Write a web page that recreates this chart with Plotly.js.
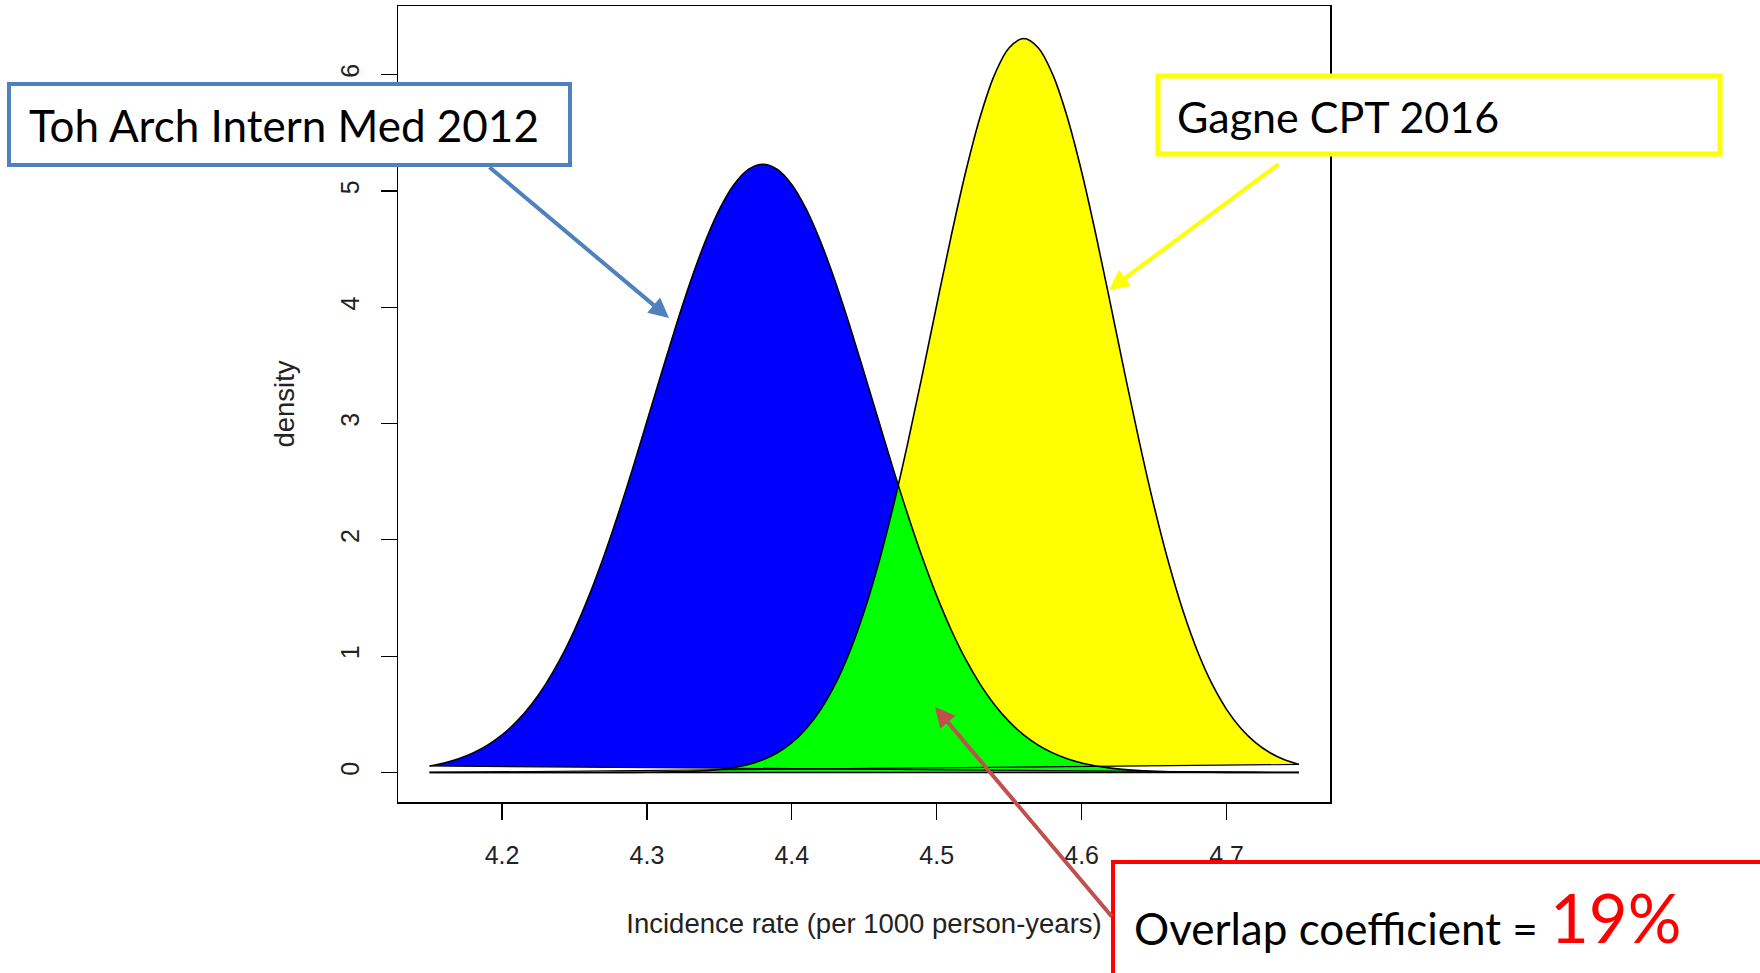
<!DOCTYPE html>
<html><head><meta charset="utf-8">
<script src="https://cdn.plot.ly/plotly-3.0.1.min.js"></script>
<style>html,body{margin:0;padding:0;background:#fff}#chart{width:1760px;height:973px}</style>
</head><body><div id="chart"></div>
<script>
// ---- data ----
const incidenceRate = [4.15,4.16,4.17,4.18,4.19,4.20,4.21,4.22,4.23,4.24,4.25,4.26,4.27,4.28,4.29,4.30,
  4.31,4.32,4.33,4.34,4.35,4.36,4.37,4.38,4.39,4.40,4.41,4.42,4.43,4.44,4.45,4.46,4.47,4.48,4.49,4.50,
  4.51,4.52,4.53,4.54,4.55,4.56,4.57,4.58,4.59,4.60,4.61,4.62,4.63,4.64,4.65,4.66,4.67,4.68,4.69,4.70,
  4.71,4.72,4.73,4.74,4.75];
const densityToh = [0.0556,0.0819,0.1185,0.1685,0.2355,0.3236,0.4370,0.5802,0.7572,0.9715,1.225,1.518,
  1.850,2.216,2.608,3.019,3.433,3.839,4.219,4.558,4.841,5.053,5.185,5.23,5.185,5.053,4.841,4.558,4.219,
  3.839,3.433,3.019,2.608,2.216,1.850,1.518,1.225,0.9715,0.7572,0.5802,0.4370,0.3236,0.2355,0.1685,
  0.1185,0.0819,0.0556,0.0372,0.0244,0.0157,0.0100,0.0062,0.0038,0.0023,0.0014,0.0008,0.0005,0.0003,
  0.0001,0.0001,0.0000];
const densityGagne = [0,0,0,0,0,0,0,0,0,0,0,0.0001,0.0002,0.0003,0.0007,0.0013,0.0025,0.0047,0.0084,
  0.0148,0.0252,0.0422,0.0688,0.1093,0.1694,0.2561,0.3774,0.5425,0.7607,1.0404,1.3876,1.8045,2.289,
  2.832,3.417,4.021,4.614,5.165,5.638,6.002,6.2315,6.31,6.2315,6.002,5.638,5.165,4.614,4.021,3.417,
  2.832,2.289,1.8045,1.3876,1.0404,0.7607,0.5425,0.3774,0.2561,0.1694,0.1093,0.0688];
const xTickVals = [4.2,4.3,4.4,4.5,4.6,4.7];
const xTickText = ['4.2','4.3','4.4','4.5','4.6','4.7'];
const yTickVals = [0,1,2,3,4,5,6];
const yTickText = ['0','1','2','3','4','5','6'];
const labelToh = 'Toh Arch Intern Med 2012';
const labelGagne = 'Gagne CPT 2016';
const overlapLabel = 'Overlap coefficient =';
const overlapValue = '19%';
const xAxisTitle = 'Incidence rate (per 1000 person-years)';
const yAxisTitle = 'density';

// ---- overlap region (pointwise minimum, with crossing points) ----
const ovX = [], ovY = [];
for (let i = 0; i < incidenceRate.length; i++) {
  ovX.push(incidenceRate[i]);
  ovY.push(Math.min(densityToh[i], densityGagne[i]));
  if (i < incidenceRate.length - 1) {
    const d0 = densityToh[i] - densityGagne[i];
    const d1 = densityToh[i+1] - densityGagne[i+1];
    if (d0 * d1 < 0) {
      const t = d0 / (d0 - d1);
      ovX.push(incidenceRate[i] + t * (incidenceRate[i+1] - incidenceRate[i]));
      ovY.push(densityToh[i] + t * (densityToh[i+1] - densityToh[i]));
    }
  }
}
const n = incidenceRate.length;
const xFirst = incidenceRate[0], xLast = incidenceRate[n-1];

// ---- layout geometry (pixels) ----
const L = 398, T = 6, W = 932, H = 796;
const px = p => (p - L) / W;
const py = p => (T + H - p) / H;

const traces = [
  {x: incidenceRate, y: densityToh, type: 'scatter', mode: 'lines', fill: 'toself',
   fillcolor: '#0000FF', line: {color: '#000', width: 0, shape: 'spline'}, hoverinfo: 'skip'},
  {x: incidenceRate, y: densityGagne, type: 'scatter', mode: 'lines', fill: 'toself',
   fillcolor: '#FFFF00', line: {color: '#000', width: 0, shape: 'spline'}, hoverinfo: 'skip'},
  {x: ovX, y: ovY, type: 'scatter', mode: 'lines', fill: 'toself',
   fillcolor: '#00FF00', line: {color: '#000', width: 0}, hoverinfo: 'skip'},
  {x: incidenceRate, y: densityToh, type: 'scatter', mode: 'lines',
   line: {color: '#000', width: 1.6, shape: 'spline'}, hoverinfo: 'skip'},
  {x: incidenceRate, y: densityGagne, type: 'scatter', mode: 'lines',
   line: {color: '#000', width: 1.6, shape: 'spline'}, hoverinfo: 'skip'},
  {x: [xLast, xFirst], y: [densityToh[n-1], densityToh[0]], type: 'scatter', mode: 'lines',
   line: {color: '#000', width: 1.2}, hoverinfo: 'skip'},
  {x: [xLast, xFirst], y: [densityGagne[n-1], densityGagne[0]], type: 'scatter', mode: 'lines',
   line: {color: '#000', width: 1.2}, hoverinfo: 'skip'},
  {x: [xFirst, xLast], y: [0, 0], type: 'scatter', mode: 'lines',
   line: {color: '#000', width: 1.6}, hoverinfo: 'skip'}
];

const rFont = {family: 'Liberation Sans, Arial, sans-serif', size: 25, color: '#222'};
const rTitleFont = {family: 'Liberation Sans, Arial, sans-serif', size: 27.5, color: '#222'};
const boxFont = {family: 'Lato, sans-serif', size: 44, color: '#000'};

const layout = {
  width: 1760, height: 973,
  margin: {l: L, r: 1760 - L - W, t: T, b: 973 - T - H},
  paper_bgcolor: '#fff', plot_bgcolor: '#fff',
  showlegend: false,
  xaxis: {
    range: [4.1282, 4.7714], tickvals: xTickVals, ticktext: xTickText,
    ticks: 'outside', ticklen: 16, tickwidth: 1.2, tickcolor: '#000',
    showline: true, linecolor: '#000', linewidth: 1.5, mirror: true,
    showgrid: false, zeroline: false, tickfont: rFont, ticklabelstandoff: 14,
    title: {text: xAxisTitle, font: rTitleFont, standoff: 46}
  },
  yaxis: {
    range: [-0.254, 6.59], tickvals: yTickVals, ticktext: yTickText, tickangle: -90,
    ticks: 'outside', ticklen: 16, tickwidth: 1.2, tickcolor: '#000',
    showline: true, linecolor: '#000', linewidth: 1.5, mirror: true,
    showgrid: false, zeroline: false, tickfont: rFont, ticklabelstandoff: 12,
    title: {text: yAxisTitle, font: rTitleFont, standoff: 33}
  },
  shapes: [
    {type: 'rect', xref: 'paper', yref: 'paper', x0: px(9), x1: px(570), y0: py(165), y1: py(84),
     line: {color: '#4F81BD', width: 4}, fillcolor: '#fff', layer: 'above'},
    {type: 'rect', xref: 'paper', yref: 'paper', x0: px(1158), x1: px(1720), y0: py(154), y1: py(76),
     line: {color: '#FFFF00', width: 5}, fillcolor: '#fff', layer: 'above'},
    {type: 'rect', xref: 'paper', yref: 'paper', x0: px(1113), x1: px(1780), y0: py(990), y1: py(862),
     line: {color: '#FF0000', width: 4}, fillcolor: '#fff', layer: 'above'}
  ],
  annotations: [
    {xref: 'paper', yref: 'paper', x: px(27), y: py(125), xanchor: 'left', yanchor: 'middle',
     text: labelToh, showarrow: false, font: boxFont},
    {xref: 'paper', yref: 'paper', x: px(1175), y: py(117), xanchor: 'left', yanchor: 'middle',
     text: labelGagne, showarrow: false, font: {family: 'Lato, sans-serif', size: 43, color: '#000'}},
    {xref: 'paper', yref: 'paper', x: px(1132), y: py(928), xanchor: 'left', yanchor: 'middle',
     text: overlapLabel, showarrow: false, font: boxFont},
    {xref: 'paper', yref: 'paper', x: px(1548), y: py(917), xanchor: 'left', yanchor: 'middle',
     text: overlapValue, showarrow: false, font: {family: 'Lato, sans-serif', size: 67, color: '#FF0000'}},
    {xref: 'paper', yref: 'paper', x: px(669), y: py(318), ax: -181, ay: -152, text: '',
     showarrow: true, arrowhead: 2, arrowsize: 1, arrowwidth: 4, arrowcolor: '#4F81BD'},
    {xref: 'paper', yref: 'paper', x: px(1109), y: py(290), ax: 171, ay: -127, text: '',
     showarrow: true, arrowhead: 2, arrowsize: 1, arrowwidth: 4, arrowcolor: '#FFFF00'},
    {xref: 'paper', yref: 'paper', x: px(935), y: py(707), ax: 178, ay: 211, text: '',
     showarrow: true, arrowhead: 2, arrowsize: 1, arrowwidth: 4, arrowcolor: '#C0504D'}
  ]
};

Plotly.newPlot('chart', traces, layout, {staticPlot: true, displayModeBar: false});
</script>
</body></html>
